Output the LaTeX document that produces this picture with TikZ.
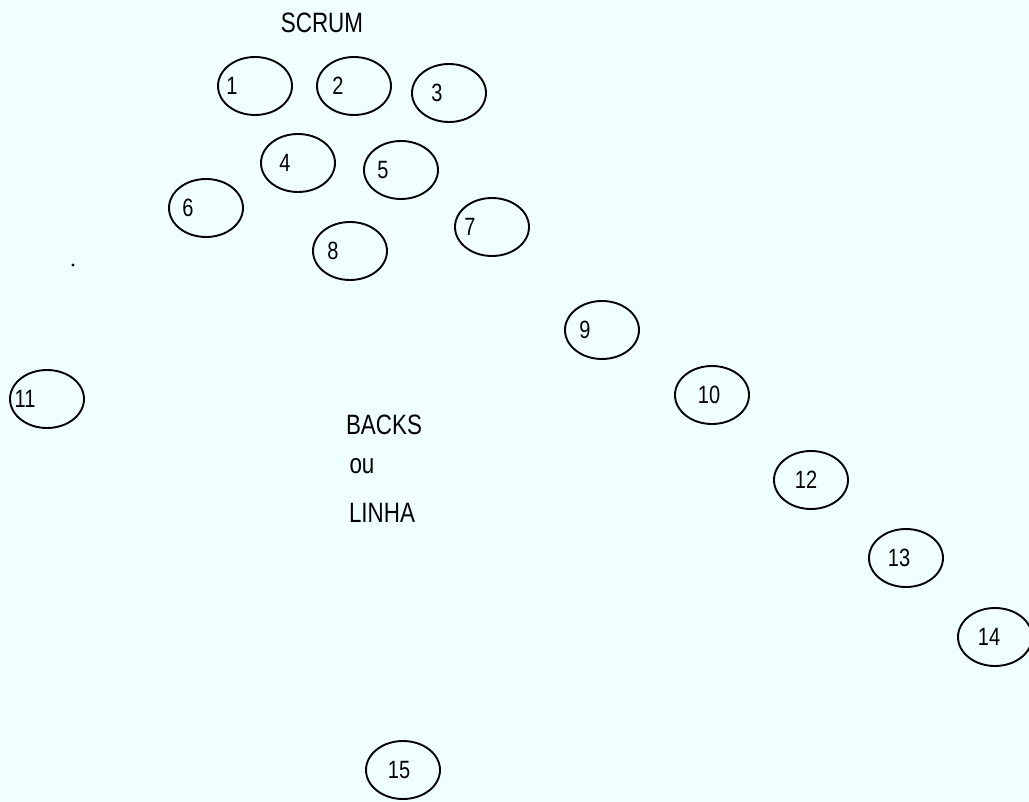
\documentclass[tikz,border=0pt]{standalone}
\usepackage{fontspec}
\setmainfont{Liberation Sans}[FakeStretch=0.8]
\usetikzlibrary{shapes.geometric}
\definecolor{bgc}{RGB}{240,255,255}
\tikzset{
  player/.style={draw=black, line width=1.9pt, ellipse, minimum width=74pt, minimum height=58pt, inner sep=0pt},
  num/.style={font=\fontsize{25}{25}\selectfont, inner sep=0pt},
  title/.style={font=\fontsize{28}{28}\selectfont, inner sep=0pt}
}
\begin{document}
\begin{tikzpicture}[x=1pt,y=-1pt]
\fill[bgc] (0,0) rectangle (1029,802);
\useasboundingbox (0,0) rectangle (1029,802);
\node[title] (scrum) at (322,23) {SCRUM};
\foreach \n/\cx/\cy/\lx in {1/255/86/232, 2/354/86/338, 3/449/93/437, 4/298/163/285, 5/401/170/383, 6/206/208/188, 7/492/227/470, 8/350/251/333, 9/602/330/585, 10/712/395/709, 11/47/399/25, 12/811/480/806, 13/906/558/899, 14/995/637/989, 15/403/770/399}{
  \node[player] (p\n) at (\cx,\cy) {};
  \node[num] (l\n) at (\lx,\cy) {\n};
}
\fill (73,265) circle (1.6pt);
\coordinate (dot) at (73,265);
\node[title] (backs) at (384,425) {BACKS};
\node[title] (ou) at (362,466) {ou};
\node[title] (linha) at (382,513) {LINHA};
\end{tikzpicture}
\end{document}
